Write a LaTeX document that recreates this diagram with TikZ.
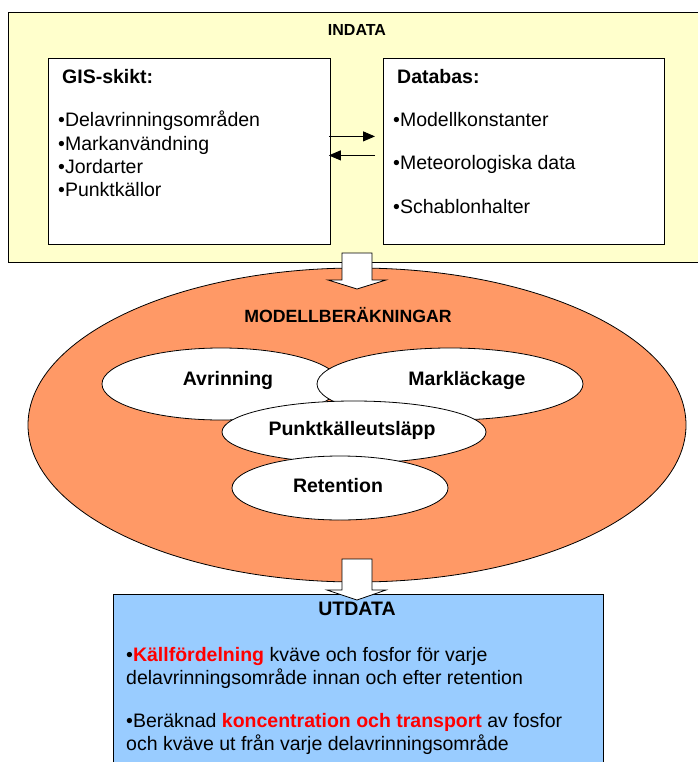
\documentclass[tikz,border=0pt]{standalone}
\usepackage{fontspec}
\setmainfont{Liberation Sans}
\usetikzlibrary{shapes.geometric,arrows.meta}
\definecolor{indatafill}{HTML}{FFFFCC}
\definecolor{modelfill}{HTML}{FF9966}
\definecolor{utdatafill}{HTML}{99CCFF}
\definecolor{hilite}{HTML}{FF0000}
\newcommand{\bodyfont}{\fontsize{19.5}{22.5}\selectfont}
\newcommand{\hl}[1]{\textbf{\color{hilite}#1}}
\begin{document}
\begin{tikzpicture}[x=1pt,y=-1pt,
  frame/.style={draw=black, line width=0.8pt, inner sep=0pt, anchor=north west},
  oval/.style={ellipse, draw=black, line width=0.8pt, fill=white, inner sep=0pt},
  txt/.style={anchor=base west, inner sep=0pt, font=\bodyfont},
  ctxt/.style={anchor=base, inner sep=0pt, font=\bodyfont\bfseries},
  smallarrow/.style={line width=0.9pt, -{Triangle[length=12pt,width=10pt]}},
  blockarrow/.style={draw=black, line width=0.8pt, fill=white, line join=miter}]
\useasboundingbox (0,0) rectangle (697,762);

% input frame with its two inner boxes
\node[frame, fill=indatafill, minimum width=700pt, minimum height=250pt] (indata) at (8,12) {};
\node[frame, fill=white, minimum width=282pt, minimum height=186pt] (gis) at (48,58) {};
\node[frame, fill=white, minimum width=281pt, minimum height=186pt] (db) at (383,58) {};

\node[anchor=base, inner sep=0pt, font=\fontsize{16}{18}\selectfont\bfseries] (tin) at (357,36) {INDATA};

\node[txt, font=\bodyfont\bfseries] (gh) at (62,84) {GIS-skikt:};
\node[txt] (g1) at (58,127) {\textbullet Delavrinningsområden};
\node[txt] (g2) at (58,150) {\textbullet Markanvändning};
\node[txt] (g3) at (58,173) {\textbullet Jordarter};
\node[txt] (g4) at (58,196) {\textbullet Punktkällor};

\node[txt, font=\bodyfont\bfseries] (dh) at (397,84) {Databas:};
\node[txt] (d1) at (393,127) {\textbullet Modellkonstanter};
\node[txt] (d2) at (393,169) {\textbullet Meteorologiska data};
\node[txt] (d3) at (393,213) {\textbullet Schablonhalter};

% exchange between the two sources
\draw[smallarrow] ([xshift=-2pt,yshift=15pt]gis.east) -- ([xshift=-8pt,yshift=15pt]db.west);
\draw[smallarrow] ([xshift=-8pt,yshift=-4pt]db.west) -- ([xshift=-2pt,yshift=-4pt]gis.east);

% model calculations
\node[oval, fill=modelfill, minimum width=658pt, minimum height=314pt] (model) at (357,425) {};
\node[anchor=base, inner sep=0pt, font=\fontsize{17.7}{20}\selectfont\bfseries] (tmodel) at (348,322) {MODELLBERÄKNINGAR};

\node[oval, minimum width=238pt, minimum height=72pt] (avr) at (221,384) {};
\node[oval, minimum width=266pt, minimum height=72pt] (mark) at (450,384) {};
\node[oval, minimum width=264pt, minimum height=62pt] (punkt) at (354,432) {};
\node[oval, minimum width=216pt, minimum height=64pt] (ret) at (340,488) {};

\node[ctxt] (tavr) at (228,385) {Avrinning};
\node[ctxt] (tmark) at (467,385) {Markläckage};
\node[ctxt] (tpunkt) at (352,435) {Punktkälleutsläpp};
\node[ctxt] (tret) at (338,492) {Retention};

% output box
\node[frame, fill=utdatafill, minimum width=490pt, minimum height=180pt] (utdata) at (113,594) {};
\node[ctxt] (tut) at (357,615) {UTDATA};
\node[txt] (u1) at (126,661) {\textbullet\hl{Källfördelning} kväve och fosfor för varje};
\node[txt] (u2) at (126,684) {delavrinningsområde innan och efter retention};
\node[txt] (u3) at (126,727) {\textbullet Beräknad \hl{koncentration och transport} av fosfor};
\node[txt] (u4) at (126,750) {och kväve ut från varje delavrinningsområde};

% flow arrows between the stages
\draw[blockarrow] (342,253) -- (372,253) -- (372,280) -- (386,280) -- (357,289)
  -- (328,280) -- (342,280) -- cycle;
\draw[blockarrow] (342,559) -- (372,559) -- (372,590) -- (386,590) -- (357,600)
  -- (327,590) -- (342,590) -- cycle;
\end{tikzpicture}
\end{document}
